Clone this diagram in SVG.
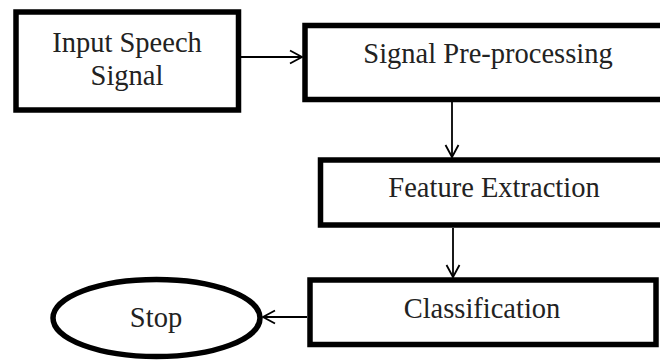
<svg xmlns="http://www.w3.org/2000/svg" width="660" height="361" viewBox="0 0 660 361">
  <style>
    .box { fill: #ffffff; stroke: #000000; stroke-width: 5.5; }
    .lbl { font-family: "Liberation Serif", "Times New Roman", serif; font-size: 28.5px; fill: #222222; text-anchor: middle; }
    .conn { stroke: #000000; stroke-width: 1.8; fill: none; }
  </style>
  <defs>
    <marker id="arr" markerUnits="userSpaceOnUse" markerWidth="16" markerHeight="16" viewBox="0 0 16 16" refX="14" refY="8" orient="auto">
      <path d="M2,1.5 L14,8 L2,14.5" fill="none" stroke="#000000" stroke-width="1.8"/>
    </marker>
  </defs>
  <rect width="660" height="361" fill="#ffffff"/>

  <g id="connectors">
    <line class="conn" x1="241" y1="57" x2="302" y2="57" marker-end="url(#arr)"/>
    <line class="conn" x1="452" y1="102" x2="452" y2="157" marker-end="url(#arr)"/>
    <line class="conn" x1="453" y1="228" x2="453" y2="277" marker-end="url(#arr)"/>
    <line class="conn" x1="307" y1="317" x2="263" y2="317" marker-end="url(#arr)"/>
  </g>

  <g id="node-input">
    <rect class="box" x="16" y="12" width="222.5" height="98"/>
    <text class="lbl" x="127" y="52">Input Speech</text>
    <text class="lbl" x="127" y="85">Signal</text>
  </g>

  <g id="node-preprocessing">
    <rect class="box" x="305" y="25.5" width="380" height="74"/>
    <text class="lbl" x="488" y="63">Signal Pre-processing</text>
  </g>

  <g id="node-feature">
    <rect class="box" x="320.5" y="160" width="380" height="65"/>
    <text class="lbl" x="494" y="197">Feature Extraction</text>
  </g>

  <g id="node-classification">
    <rect class="box" x="310" y="280" width="346" height="64.5"/>
    <text class="lbl" x="482" y="318">Classification</text>
  </g>

  <g id="node-stop">
    <ellipse class="box" cx="156.5" cy="318" rx="103.5" ry="38.5"/>
    <text class="lbl" x="156" y="327">Stop</text>
  </g>
</svg>
